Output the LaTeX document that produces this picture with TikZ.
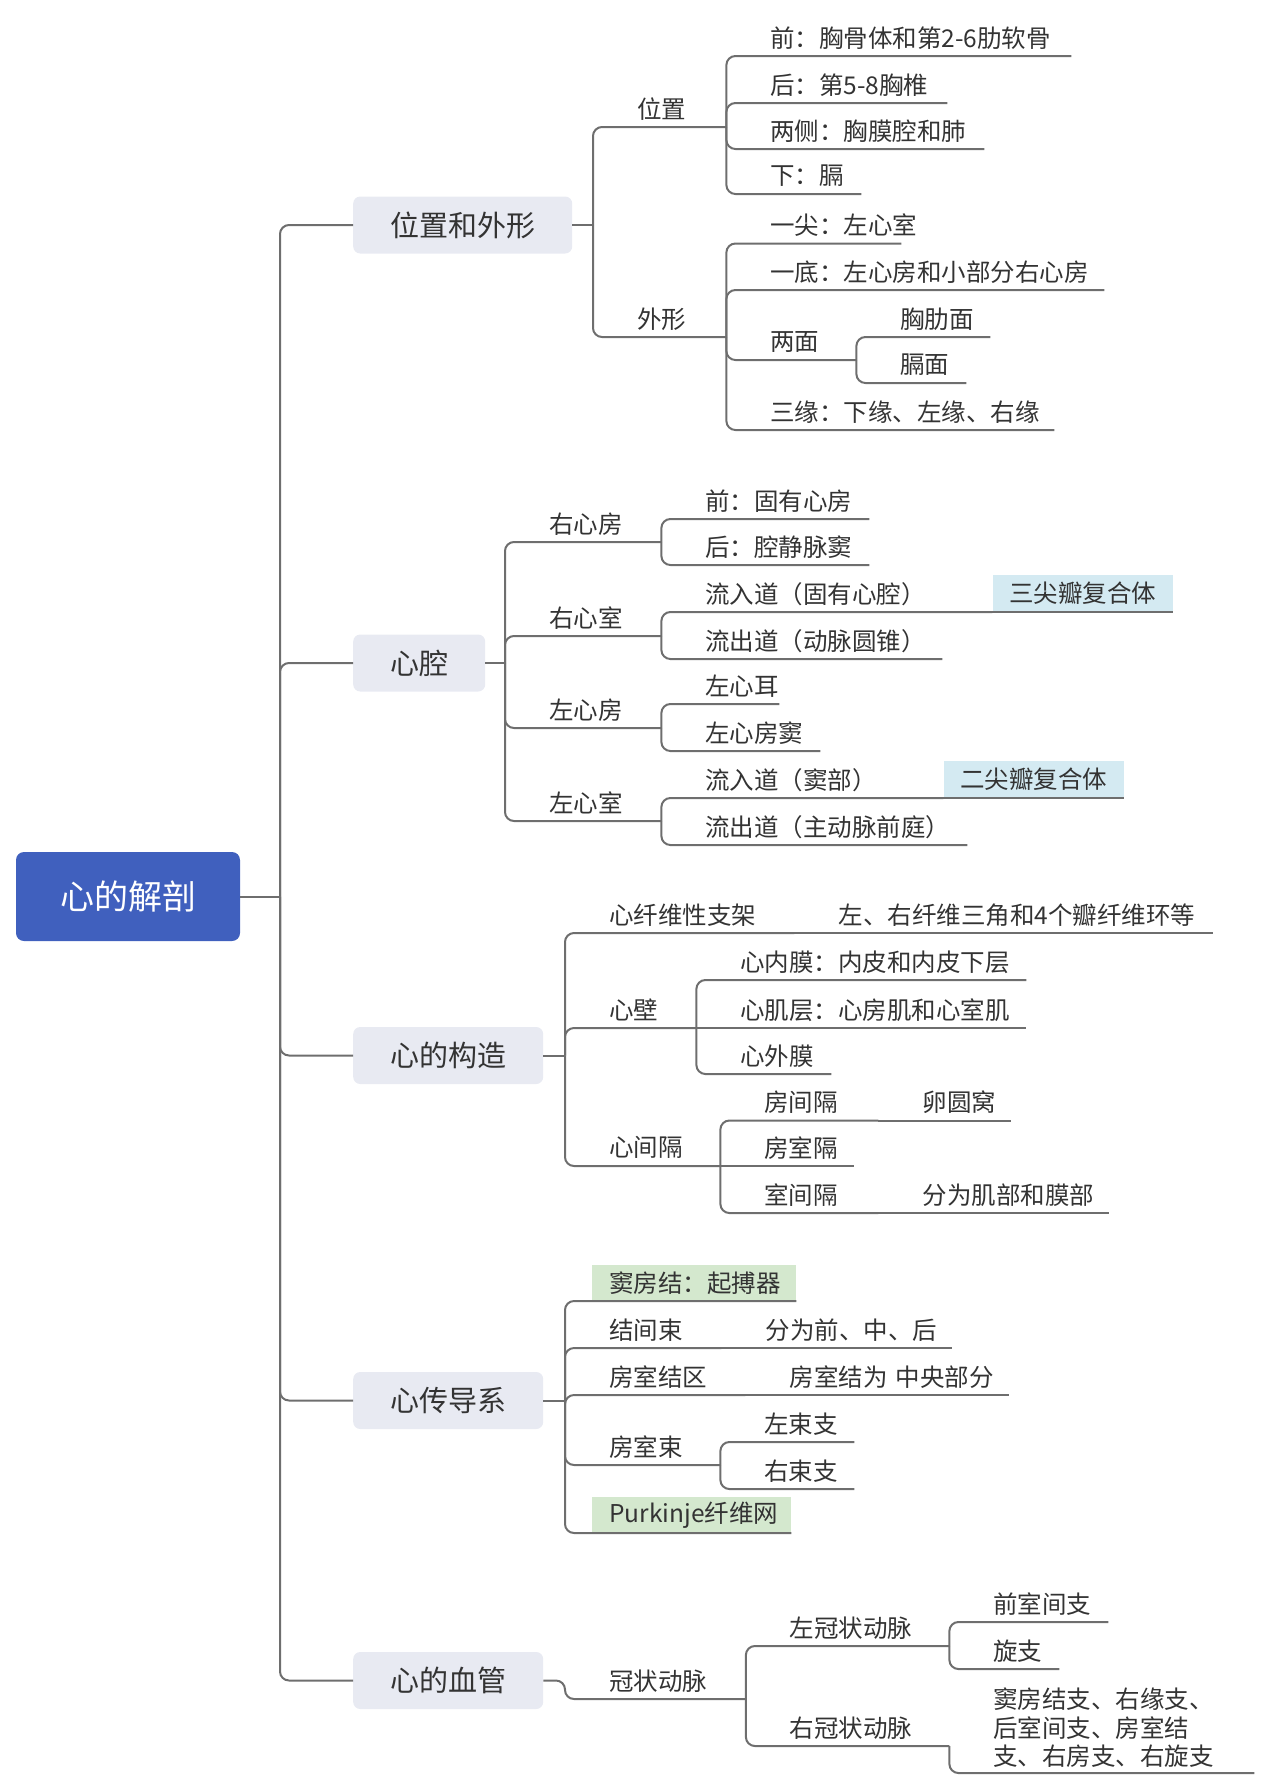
\documentclass[tikz,border=0pt]{standalone}
\usepackage{fontspec}
\setmainfont{Noto Sans CJK SC}
\usepackage{xcolor}
\usetikzlibrary{positioning}

\definecolor{rootblue}{RGB}{64,96,190}
\definecolor{mainfill}{RGB}{232,234,242}
\definecolor{tagblue}{RGB}{212,234,242}
\definecolor{taggreen}{RGB}{212,232,206}
\definecolor{linegray}{RGB}{110,110,110}
\definecolor{textgray}{RGB}{51,51,51}

\tikzset{
  link/.style={draw=linegray, line width=2pt, rounded corners=9pt},
  rootbox/.style={rectangle, rounded corners=8pt, fill=rootblue, text=white,
    minimum width=224pt, minimum height=89pt, font=\fontsize{34}{40}\selectfont},
  mainbox/.style={rectangle, rounded corners=7pt, fill=mainfill, text=textgray, anchor=west,
    minimum height=57pt, inner sep=0pt, font=\fontsize{29}{34}\selectfont},
  tnode/.style={anchor=south west, inner xsep=0pt, inner ysep=0pt, minimum height=36pt,
    text width=#1, align=left, text=textgray, font=\fontsize{24.5}{28.5}\selectfont},
  topic/.style={tnode=#1, execute at begin node={\leftskip=44pt\relax}},
  greentag/.style={tnode=#1, fill=taggreen, execute at begin node={\leftskip=17pt\relax}},
  bluetag/.style={anchor=south west, fill=tagblue, inner sep=0pt, minimum width=180pt,
    minimum height=37pt, text=textgray, font=\fontsize{24.5}{28.5}\selectfont}
}

\begin{document}
\begin{tikzpicture}[x=1pt, y=-1pt]
    \useasboundingbox (0,0) rectangle (1268,1792);

    % Root and main branches
    \node[rootbox] (heart) at (128,896.5) {心的解剖};
    \coordinate (trunk) at (280,896.5);
    \node[mainbox, minimum width=219pt] (posform) at (353,225) {位置和外形};
    \node[mainbox, minimum width=132pt] (cavity) at (353,663) {心腔};
    \node[mainbox, minimum width=190pt] (struct) at (353,1055.5) {心的构造};
    \node[mainbox, minimum width=190pt] (conduct) at (353,1400.5) {心传导系};
    \node[mainbox, minimum width=190pt] (vessel) at (353,1680.5) {心的血管};
    \coordinate (posform-j) at (593,225);
    \coordinate (cavity-j) at (505,663);
    \coordinate (struct-j) at (565,1055.5);
    \coordinate (conduct-j) at (565,1400.5);
    \coordinate (vessel-j) at (565,1680.5);

    % Position and shape
    \node[topic=133pt] (pos) at (593,127) {位置};
    \node[topic=133pt] (form) at (593,337) {外形};
    \node[topic=345pt] (pos1) at (726,56) {前：胸骨体和第2-6肋软骨};
    \node[topic=221pt] (pos2) at (726,103) {后：第5-8胸椎};
    \node[topic=258pt] (pos3) at (726,149) {两侧：胸膜腔和肺};
    \node[topic=135pt] (pos4) at (726,194) {下：膈};
    \node[topic=175pt] (form1) at (726,243.5) {一尖：左心室};
    \node[topic=378pt] (form2) at (726,290) {一底：左心房和小部分右心房};
    \node[topic=130pt] (form3) at (726,360) {两面};
    \node[topic=134pt] (face1) at (856,337) {胸肋面};
    \node[topic=110pt] (face2) at (856,383) {膈面};
    \node[topic=328pt] (form4) at (726,430) {三缘：下缘、左缘、右缘};

    % Cavities
    \node[topic=156pt] (ra) at (505,542) {右心房};
    \node[topic=156pt] (rv) at (505,636) {右心室};
    \node[topic=156pt] (la) at (505,728) {左心房};
    \node[topic=156pt] (lv) at (505,821) {左心室};
    \node[topic=208pt] (ra1) at (661,519) {前：固有心房};
    \node[topic=208pt] (ra2) at (661,565) {后：腔静脉窦};
    \node[topic=331pt] (rv1) at (661,612) {流入道（固有心腔）};
    \node[bluetag] (tri) at (rv1.south east) {三尖瓣复合体};
    \node[topic=281pt] (rv2) at (661,659) {流出道（动脉圆锥）};
    \node[topic=118pt] (la1) at (661,704) {左心耳};
    \node[topic=159pt] (la2) at (661,751) {左心房窦};
    \node[topic=282pt] (lv1) at (661,798) {流入道（窦部）};
    \node[bluetag] (mit) at (lv1.south east) {二尖瓣复合体};
    \node[topic=306pt] (lv2) at (661,845) {流出道（主动脉前庭）};

    % Structure
    \node[topic=229pt] (skel) at (565,933) {心纤维性支架};
    \node[topic=418pt] (skel1) at (skel.south east) {左、右纤维三角和4个瓣纤维环等};
    \node[topic=131pt] (wall) at (565,1028) {心壁};
    \node[topic=330pt] (wall1) at (696,980) {心内膜：内皮和内皮下层};
    \node[topic=330pt] (wall2) at (696,1028) {心肌层：心房肌和心室肌};
    \node[topic=135pt] (wall3) at (696,1074) {心外膜};
    \node[topic=155pt] (sept) at (565,1166) {心间隔};
    \node[topic=158pt] (sept1) at (720,1120.5) {房间隔};
    \node[topic=132pt] (sept1a) at (sept1.south east) {卵圆窝};
    \node[topic=134pt] (sept2) at (720,1166) {房室隔};
    \node[topic=158pt] (sept3) at (720,1213) {室间隔};
    \node[topic=230pt] (sept3a) at (sept3.south east) {分为肌部和膜部};

    % Conduction system
    \node[greentag=204pt] (san) at (592,1301) {窦房结：起搏器};
    \node[topic=156pt] (inb) at (565,1348) {结间束};
    \node[topic=230pt] (inb1) at (inb.south east) {分为前、中、后};
    \node[topic=180pt] (avn) at (565,1395) {房室结区};
    \node[topic=263pt] (avn1) at (avn.south east) {房室结为 中央部分};
    \node[topic=155pt] (avb) at (565,1465) {房室束};
    \node[topic=134pt] (avb1) at (720,1442) {左束支};
    \node[topic=134pt] (avb2) at (720,1489) {右束支};
    \node[greentag=199pt] (purk) at (592,1533) {Purkinje纤维网};

    % Vessels
    \node[topic=180.5pt] (cor) at (565,1699) {冠状动脉};
    \node[topic=203.5pt] (lca) at (745.5,1646) {左冠状动脉};
    \node[topic=159pt] (lca1) at (949,1622) {前室间支};
    \node[topic=110pt] (lca2) at (949,1669) {旋支};
    \node[topic=203.5pt] (rca) at (745.5,1746) {右冠状动脉};
    \node[topic=305pt, inner ysep=5pt] (rca1) at (949,1773) {窦房结支、右缘支、\\后室间支、房室结\\支、右房支、右旋支};

    % Trunk
    \draw[link] (heart.east) -- (trunk);
    \draw[link] (trunk) |- (posform.west);
    \draw[link] (trunk) |- (cavity.west);
    \draw[link] (trunk) |- (struct.west);
    \draw[link] (trunk) |- (conduct.west);
    \draw[link] (trunk) |- (vessel.west);

    % Position and shape links
    \draw[link] (posform.east) -- (posform-j);
    \draw[link] (posform-j) |- (pos.south east);
    \draw[link] (posform-j) |- (form.south east);
    \draw[link] (pos.south east) |- (pos1.south east);
    \draw[link] (pos.south east) |- (pos2.south east);
    \draw[link] (pos.south east) |- (pos3.south east);
    \draw[link] (pos.south east) |- (pos4.south east);
    \draw[link] (form.south east) |- (form1.south east);
    \draw[link] (form.south east) |- (form2.south east);
    \draw[link] (form.south east) |- (form3.south east);
    \draw[link] (form.south east) |- (form4.south east);
    \draw[link] (form3.south east) |- (face1.south east);
    \draw[link] (form3.south east) |- (face2.south east);

    % Cavity links
    \draw[link] (cavity.east) -- (cavity-j);
    \draw[link] (cavity-j) |- (ra.south east);
    \draw[link] (cavity-j) |- (rv.south east);
    \draw[link] (cavity-j) |- (la.south east);
    \draw[link] (cavity-j) |- (lv.south east);
    \draw[link] (ra.south east) |- (ra1.south east);
    \draw[link] (ra.south east) |- (ra2.south east);
    \draw[link] (rv.south east) |- (rv1.south east);
    \draw[link] (rv.south east) |- (rv2.south east);
    \draw[link] (rv1.south east) -- (tri.south east);
    \draw[link] (la.south east) |- (la1.south east);
    \draw[link] (la.south east) |- (la2.south east);
    \draw[link] (lv.south east) |- (lv1.south east);
    \draw[link] (lv.south east) |- (lv2.south east);
    \draw[link] (lv1.south east) -- (mit.south east);

    % Structure links
    \draw[link] (struct.east) -- (struct-j);
    \draw[link] (struct-j) |- (skel.south east);
    \draw[link] (struct-j) |- (wall.south east);
    \draw[link] (struct-j) |- (sept.south east);
    \draw[link] (skel.south east) -- (skel1.south east);
    \draw[link] (wall.south east) |- (wall1.south east);
    \draw[link] (wall.south east) -- (wall2.south east);
    \draw[link] (wall.south east) |- (wall3.south east);
    \draw[link] (sept.south east) |- (sept1.south east);
    \draw[link] (sept.south east) -- (sept2.south east);
    \draw[link] (sept.south east) |- (sept3.south east);
    \draw[link] (sept1.south east) -- (sept1a.south east);
    \draw[link] (sept3.south east) -- (sept3a.south east);

    % Conduction links
    \draw[link] (conduct.east) -- (conduct-j);
    \draw[link] (conduct-j) |- (san.south east);
    \draw[link] (conduct-j) |- (inb.south east);
    \draw[link] (conduct-j) |- (avn.south east);
    \draw[link] (conduct-j) |- (avb.south east);
    \draw[link] (conduct-j) |- (purk.south east);
    \draw[link] (inb.south east) -- (inb1.south east);
    \draw[link] (avn.south east) -- (avn1.south east);
    \draw[link] (avb.south east) |- (avb1.south east);
    \draw[link] (avb.south east) |- (avb2.south east);

    % Vessel links
    \draw[link] (vessel.east) -- (vessel-j) |- (cor.south east);
    \draw[link] (cor.south east) |- (lca.south east);
    \draw[link] (cor.south east) |- (rca.south east);
    \draw[link] (lca.south east) |- (lca1.south east);
    \draw[link] (lca.south east) |- (lca2.south east);
    \draw[link] (rca.south east) |- (rca1.south east);
\end{tikzpicture}
\end{document}
